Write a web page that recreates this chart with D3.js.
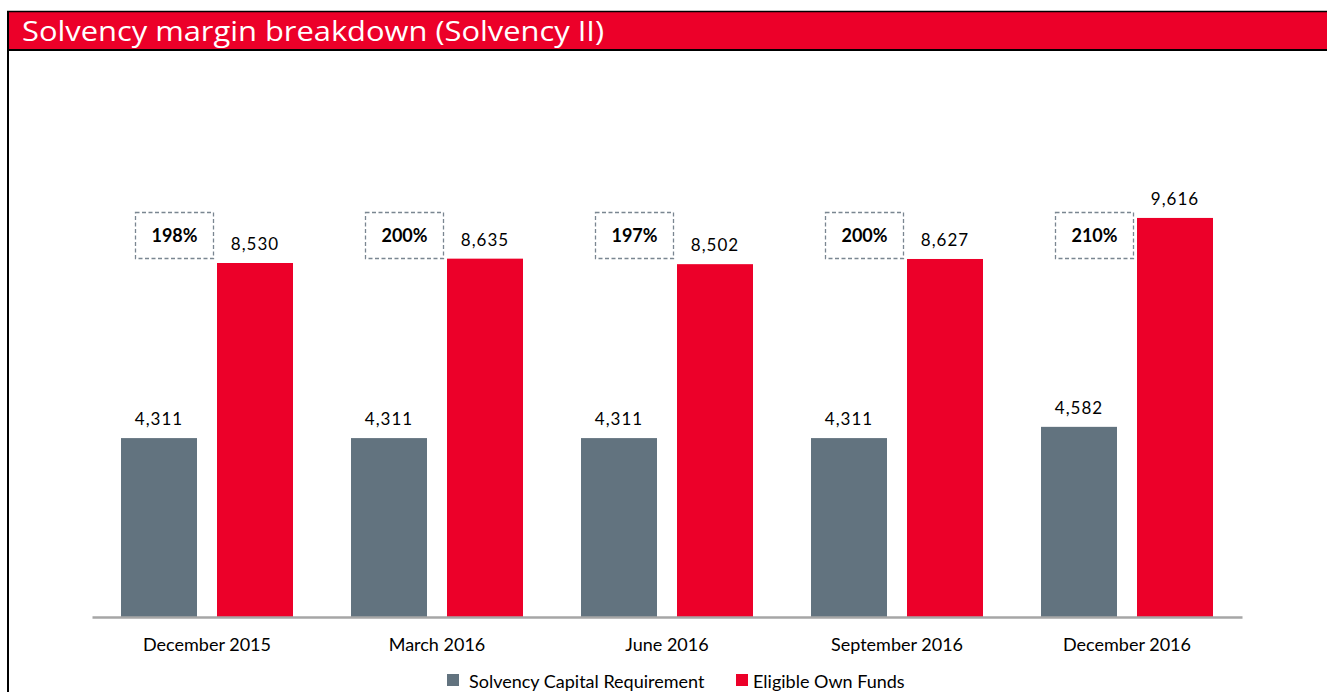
<!DOCTYPE html>
<html><head><meta charset="utf-8">
<script src="https://cdn.jsdelivr.net/npm/d3@7"></script>
<style>
html,body{margin:0;padding:0;background:#fff;}
svg{display:block;}
</style></head>
<body>
<svg id="c" width="1327" height="692"></svg>
<script>
const categories = ["December 2015","March 2016","June 2016","September 2016","December 2016"];
const seriesNames = ["Solvency Capital Requirement","Eligible Own Funds"];
const scr = [4311,4311,4311,4311,4582];
const eof = [8530,8635,8502,8627,9616];
const ratios = ["198%","200%","197%","200%","210%"];
const colors = ["#62737f","#ec0029"];

const svg = d3.select("#c");
const fmt = d3.format(",");

// frame + title
svg.append("rect").attr("x",7).attr("y",11).attr("width",1330).attr("height",39)
  .attr("fill","#ec0029");
svg.append("line").attr("x1",7).attr("x2",1327).attr("y1",11.5).attr("y2",11.5).attr("stroke","#000").attr("stroke-width",1.5);
svg.append("line").attr("x1",7).attr("x2",1327).attr("y1",50).attr("y2",50).attr("stroke","#000").attr("stroke-width",2);
svg.append("line").attr("x1",8).attr("x2",8).attr("y1",11).attr("y2",692).attr("stroke","#000").attr("stroke-width",2);
svg.append("text").attr("x",22).attr("y",41).attr("fill","#fff")
  .attr("font-family","Open Sans, sans-serif").attr("font-size",27)
  .attr("textLength",582).attr("lengthAdjust","spacingAndGlyphs")
  .text("Solvency margin breakdown (Solvency II)");

const x = d3.scaleBand().domain(categories).range([92,1242]);
const xs = d3.scaleBand().domain([0,1]).range([29,201]).paddingInner(20/96).paddingOuter(0);
const y = d3.scaleLinear().domain([0,10000]).range([617,202]);

const rows = categories.map((c,i)=>({c, vals:[scr[i],eof[i]], r:ratios[i]}));

const g = svg.selectAll("g.grp").data(rows).join("g").attr("class","grp")
  .attr("transform",d=>`translate(${x(d.c)},0)`);

g.selectAll("rect.bar").data(d=>d.vals.map((v,k)=>({v,k}))).join("rect")
  .attr("class","bar")
  .attr("x",d=>xs(d.k)).attr("width",xs.bandwidth())
  .attr("y",d=>y(d.v)).attr("height",d=>y(0)-y(d.v))
  .attr("fill",d=>colors[d.k]);

g.selectAll("text.val").data(d=>d.vals.map((v,k)=>({v,k}))).join("text")
  .attr("class","val")
  .attr("x",d=>xs(d.k)+xs.bandwidth()/2).attr("y",d=>y(d.v)-13)
  .attr("text-anchor","middle")
  .attr("font-family","Lato, sans-serif").attr("font-size",17).attr("fill","#000")
  .attr("letter-spacing",1)
  .text(d=>fmt(d.v));

// ratio boxes
g.append("rect").attr("x",xs(0)+14.5).attr("y",212.5).attr("width",78).attr("height",46)
  .attr("fill","none").attr("stroke","#7a8691").attr("stroke-width",1.3).attr("stroke-dasharray","4,2.5");
g.append("text").attr("x",xs(0)+53.5).attr("y",242).attr("text-anchor","middle")
  .attr("font-family","Lato, sans-serif").attr("font-weight","bold").attr("font-size",18).attr("fill","#000")
  .text(d=>d.r);

// axis
const ax = svg.append("g").attr("transform",`translate(0,${y(0)})`)
  .call(d3.axisBottom(x).tickSize(0).tickPadding(21));
ax.select(".domain").attr("stroke","#a6a6a6").attr("stroke-width",2.5);
ax.selectAll("text").attr("font-family","Lato, sans-serif").attr("font-size",18).attr("fill","#000");

// legend
const leg = [{x:447,tx:469},{x:736,tx:753}];
seriesNames.forEach((n,i)=>{
  svg.append("rect").attr("x",leg[i].x).attr("y",674).attr("width",12).attr("height",12).attr("fill",colors[i]);
  svg.append("text").attr("x",leg[i].tx).attr("y",688).attr("font-family","Lato, sans-serif")
    .attr("font-size",18).attr("fill","#000").text(n);
});
</script>
</body></html>
